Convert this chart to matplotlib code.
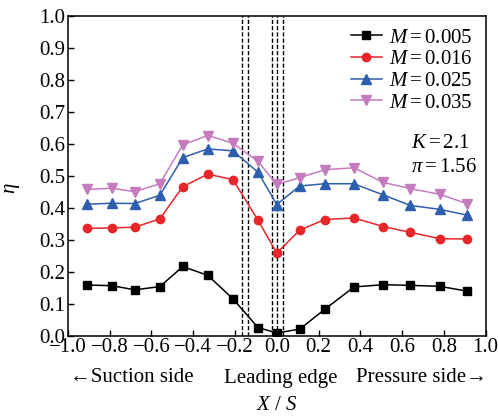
import matplotlib
matplotlib.use("Agg")
import matplotlib.pyplot as plt

plt.rcParams['font.family'] = ['Liberation Serif', 'DejaVu Serif']
plt.rcParams['mathtext.fontset'] = 'custom'
plt.rcParams['mathtext.rm'] = 'Liberation Serif'
plt.rcParams['mathtext.it'] = 'Liberation Serif:italic'

x = [-0.91, -0.79, -0.68, -0.56, -0.45, -0.33, -0.21, -0.09, 0.0, 0.11, 0.23, 0.37, 0.51, 0.64, 0.78, 0.91]
m005 = [0.158, 0.156, 0.143, 0.153, 0.216, 0.188, 0.115, 0.025, 0.008, 0.020, 0.082, 0.152, 0.159, 0.157, 0.154, 0.139]
m016 = [0.335, 0.337, 0.339, 0.365, 0.466, 0.505, 0.488, 0.361, 0.258, 0.330, 0.363, 0.368, 0.341, 0.323, 0.303, 0.302]
m025 = [0.411, 0.414, 0.413, 0.439, 0.557, 0.584, 0.578, 0.511, 0.410, 0.468, 0.475, 0.475, 0.440, 0.407, 0.395, 0.377]
m035 = [0.457, 0.461, 0.450, 0.475, 0.597, 0.626, 0.602, 0.545, 0.473, 0.494, 0.519, 0.525, 0.479, 0.460, 0.442, 0.413]
labels = [r'$M=0.005$', r'$M=0.016$', r'$M=0.025$', r'$M=0.035$']
dash_x = [-0.165, -0.138, -0.025, 0.0, 0.03]
xticks = [-1.0, -0.8, -0.6, -0.4, -0.2, 0.0, 0.2, 0.4, 0.6, 0.8, 1.0]
yticks = [0.0, 0.1, 0.2, 0.3, 0.4, 0.5, 0.6, 0.7, 0.8, 0.9, 1.0]

W, H = 498, 416
fig = plt.figure(figsize=(W / 100, H / 100), dpi=100)
ax = fig.add_axes([0.1365, 0.1935, 0.8385, 0.768])

for dx in dash_x:
    ax.axvline(dx, color='black', linestyle=(0, (3, 1.5)), linewidth=1.0, zorder=1)

series = [
    (m005, 'black', 's', 5.5),
    (m016, '#e8262a', 'o', 6),
    (m025, '#2e5fae', '^', 6.5),
    (m035, '#c47cbf', 'v', 6.5),
]
for (vals, c, mk, ms), lab in zip(series, labels):
    ax.plot(x, vals, color=c, marker=mk, markersize=ms, linewidth=1.1, label=lab, zorder=3)

ax.set_xlim(-1.0, 1.0)
ax.set_ylim(0.0, 1.0)
ax.set_xticks(xticks)
ax.set_yticks(yticks)
ax.set_xticklabels([f'{t:.1f}'.replace('-', '\u2212') for t in xticks])
ax.set_yticklabels([f'{t:.1f}' for t in yticks])
ax.tick_params(direction='in', length=4, width=1, labelsize=15, top=False, right=False, pad=2)
for s in ax.spines.values():
    s.set_linewidth(1.1)

fig.text(13 / W, 1 - 188 / H, r'$\eta$', fontsize=15, rotation=90, ha='center', va='center')

leg = ax.legend(loc='upper right', frameon=False, fontsize=15, handlelength=1.5,
                handletextpad=0.35, labelspacing=0.1, borderaxespad=0.0, borderpad=0.0,
                bbox_to_anchor=(473 / W, 1 - 28 / H), bbox_transform=fig.transFigure)

fig.text(411 / W, 1 - 144 / H, r'$K=2.1$', ha='left', va='center', fontsize=15)
fig.text(411 / W, 1 - 168 / H, r'$\pi=1.56$', ha='left', va='center', fontsize=15)

fig.text(132 / W, 1 - 378 / H, '\u2190Suction side', ha='center', va='center', fontsize=15)
fig.text(281 / W, 1 - 378 / H, 'Leading edge', ha='center', va='center', fontsize=15)
fig.text(421 / W, 1 - 378 / H, 'Pressure side\u2192', ha='center', va='center', fontsize=15)
fig.text(277 / W, 1 - 405 / H, r'$X\ /\ S$', ha='center', va='center', fontsize=15)

fig.savefig('out.png', dpi=100)
